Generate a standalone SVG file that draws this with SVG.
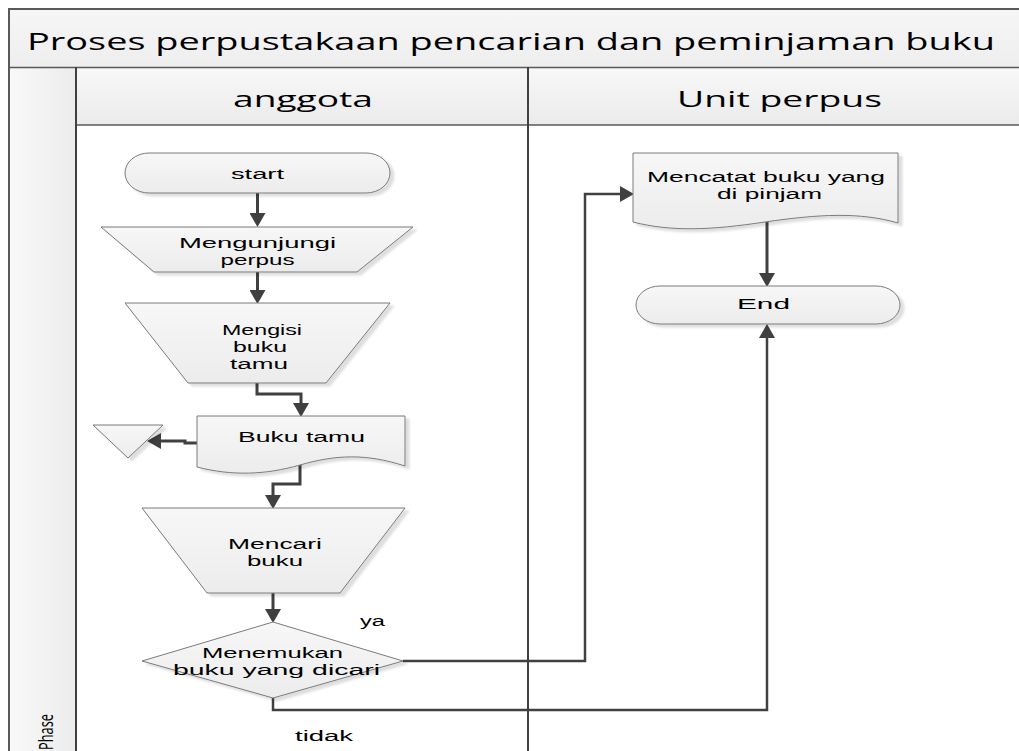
<svg xmlns="http://www.w3.org/2000/svg" width="1019" height="751" viewBox="0 0 1019 751">
<style>
.t{font-family:"Liberation Sans","Open Sans",sans-serif;font-size:14px;fill:#000;text-anchor:middle}
.h{font-family:"Open Sans","Liberation Sans",sans-serif;fill:#000}
.shape{fill:url(#gShape);stroke:#7a7a7a;stroke-width:1;filter:url(#sh)}
.c{fill:none;stroke:#404040;stroke-width:3;marker-end:url(#arr)}
.c2{fill:none;stroke:#404040;stroke-width:2.5;marker-end:url(#arr)}
.frame{fill:none;stroke:#595959;stroke-width:2}
</style>
<defs>
<linearGradient id="gShape" x1="0" y1="0" x2="0" y2="1">
<stop offset="0" stop-color="#f7f7f7"/><stop offset="1" stop-color="#ececec"/>
</linearGradient>
<linearGradient id="gTitle" x1="0" y1="0" x2="0" y2="1">
<stop offset="0" stop-color="#f6f6f6"/><stop offset="1" stop-color="#eeeeee"/>
</linearGradient>
<linearGradient id="gHead" x1="0" y1="0" x2="0" y2="1">
<stop offset="0" stop-color="#f8f8f8"/><stop offset="1" stop-color="#ebebeb"/>
</linearGradient>
<linearGradient id="gPhase" x1="0" y1="0" x2="1" y2="0">
<stop offset="0" stop-color="#f9f9f9"/><stop offset="1" stop-color="#ececec"/>
</linearGradient>
<filter id="sh" x="-10%" y="-10%" width="130%" height="130%">
<feDropShadow dx="4" dy="3" stdDeviation="1.2" flood-color="#000" flood-opacity="0.13"/>
</filter>
<marker id="arr" markerUnits="userSpaceOnUse" markerWidth="14" markerHeight="16" viewBox="0 0 14 16" refX="11" refY="8" orient="auto">
<path d="M0,0 L14,8 L0,16 Z" fill="#404040"/>
</marker>
</defs>

<g id="pool">
<rect x="9" y="9" width="1020" height="58" fill="url(#gTitle)"/>
<rect x="9" y="67" width="67" height="700" fill="url(#gPhase)"/>
<rect x="76" y="67" width="950" height="58" fill="url(#gHead)"/>
<rect x="76" y="125" width="950" height="640" fill="#ffffff"/>
<rect x="9" y="9" width="1030" height="760" class="frame"/>
<line x1="9" y1="67.5" x2="1019" y2="67.5" stroke="#595959" stroke-width="1.5"/>
<line x1="76" y1="125" x2="1019" y2="125" stroke="#595959" stroke-width="1.5"/>
<line x1="76" y1="67" x2="76" y2="751" stroke="#404040" stroke-width="2"/>
<line x1="528" y1="67" x2="528" y2="751" stroke="#404040" stroke-width="2"/>
<text class="h" x="27" y="50" font-size="24" textLength="968" lengthAdjust="spacingAndGlyphs">Proses perpustakaan pencarian dan peminjaman buku</text>
<text class="h" x="233" y="107" font-size="22" textLength="140" lengthAdjust="spacingAndGlyphs">anggota</text>
<text class="h" x="677" y="107" font-size="22" textLength="205" lengthAdjust="spacingAndGlyphs">Unit perpus</text>
<text class="h" transform="translate(53,750) rotate(-90)" font-size="20" textLength="36" lengthAdjust="spacingAndGlyphs">Phase</text>
</g>

<g id="connectors">
<path class="c" d="M257.5,193 V224"/>
<path class="c" d="M257.5,272 V301"/>
<path class="c" d="M257,383 V394 H301 V414"/>
<path class="c" d="M197,443 H185 V441 H150"/>
<path class="c" d="M300,463 V484 H273 V506"/>
<path class="c" d="M273,593 V620"/>
<path class="c2" d="M403,661 H585 V194 H631"/>
<path class="c2" d="M273,698 V710 H767 V327"/>
<path class="c" d="M767,222 V284"/>
</g>

<g id="start">
<rect class="shape" x="125" y="153" width="265" height="40" rx="24" ry="20"/>
<text class="t" x="257.5" y="179" textLength="53" lengthAdjust="spacingAndGlyphs">start</text>
</g>

<g id="mengunjungi">
<polygon class="shape" points="101,227 413,227 357,272 154,272"/>
<text class="t" x="257.5" y="248" textLength="157" lengthAdjust="spacingAndGlyphs">Mengunjungi</text>
<text class="t" x="257.5" y="265" textLength="74" lengthAdjust="spacingAndGlyphs">perpus</text>
</g>

<g id="mengisi">
<polygon class="shape" points="125,303 390,303 326,383 188,383"/>
<text class="t" x="262" y="335" textLength="80" lengthAdjust="spacingAndGlyphs">Mengisi</text>
<text class="t" x="260" y="352" textLength="54" lengthAdjust="spacingAndGlyphs">buku</text>
<text class="t" x="259" y="369" textLength="58" lengthAdjust="spacingAndGlyphs">tamu</text>
</g>

<g id="bukutamu">
<path class="shape" d="M197,416 H405 V466 C365,453 335,455 300,465 C265,475 232,476 197,467 Z"/>
<text class="t" x="301.5" y="442" textLength="127" lengthAdjust="spacingAndGlyphs">Buku tamu</text>
</g>

<g id="arsip">
<polygon class="shape" points="93,425 163,425 128,458"/>
</g>

<g id="mencari">
<polygon class="shape" points="142,508 405,508 340,593 207,593"/>
<text class="t" x="275" y="549" textLength="94" lengthAdjust="spacingAndGlyphs">Mencari</text>
<text class="t" x="275" y="566" textLength="56" lengthAdjust="spacingAndGlyphs">buku</text>
</g>

<g id="menemukan">
<polygon class="shape" points="273,622 403,661 273,698 142,661"/>
<text class="t" x="272.5" y="658" textLength="141" lengthAdjust="spacingAndGlyphs">Menemukan</text>
<text class="t" x="276.5" y="675" textLength="207" lengthAdjust="spacingAndGlyphs">buku yang dicari</text>
</g>

<g id="labels">
<text class="t" x="372.5" y="626" textLength="25" lengthAdjust="spacingAndGlyphs">ya</text>
<text class="t" x="324" y="741" textLength="58" lengthAdjust="spacingAndGlyphs">tidak</text>
</g>

<g id="mencatat">
<path class="shape" d="M633,153 H898 V223 C860,212 820,214 765,222 C712,230 672,232 633,222 Z"/>
<text class="t" x="766" y="182" textLength="238" lengthAdjust="spacingAndGlyphs">Mencatat buku yang</text>
<text class="t" x="769.5" y="199" textLength="105" lengthAdjust="spacingAndGlyphs">di pinjam</text>
</g>

<g id="end">
<rect class="shape" x="636" y="286" width="264" height="38" rx="24" ry="19"/>
<text class="t" x="763.5" y="309" textLength="53" lengthAdjust="spacingAndGlyphs">End</text>
</g>
</svg>
